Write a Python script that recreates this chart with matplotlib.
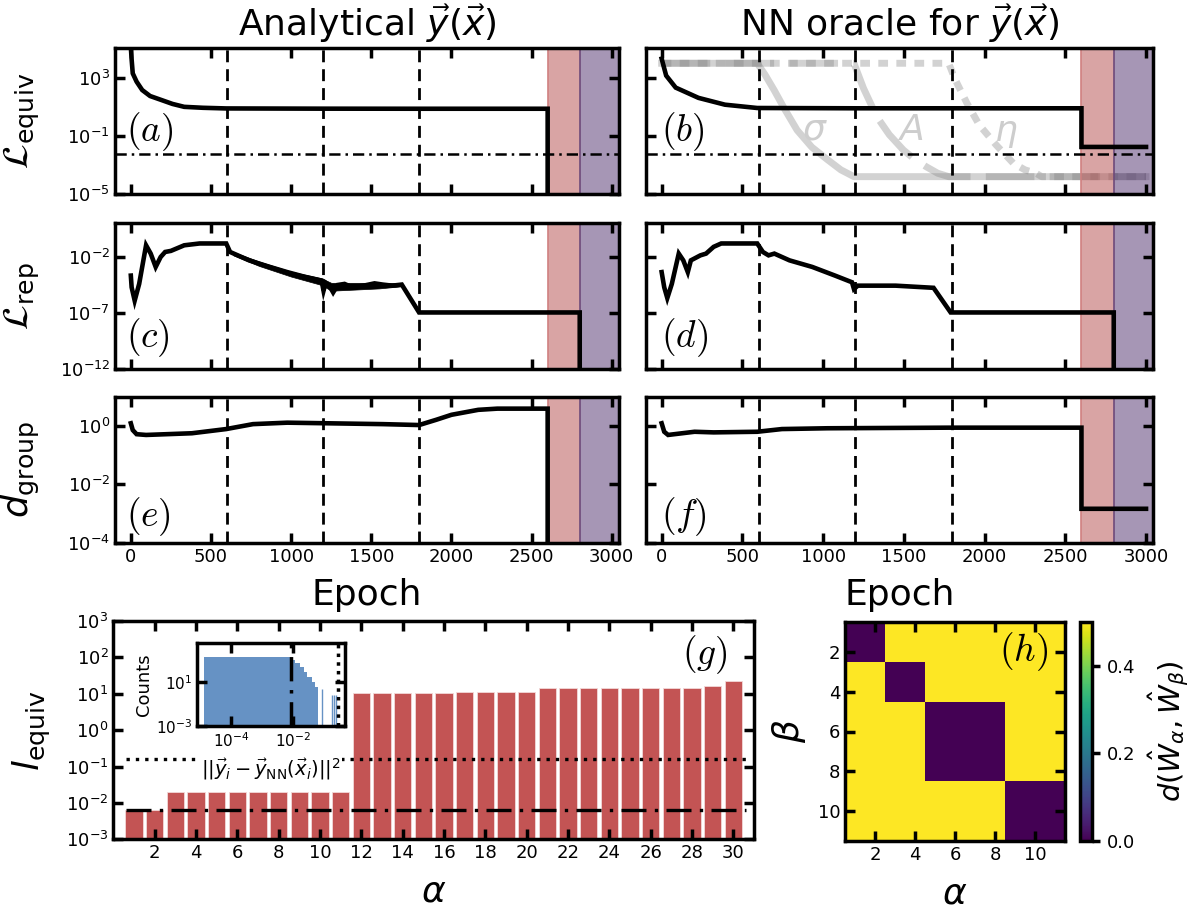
import matplotlib
matplotlib.use("Agg")
import numpy as np
import matplotlib.pyplot as plt
from matplotlib.ticker import NullLocator

plt.rcParams.update({
    "axes.linewidth": 2.5,
    "xtick.direction": "in",
    "ytick.direction": "in",
    "xtick.top": True,
    "ytick.right": True,
    "xtick.major.size": 7,
    "ytick.major.size": 7,
    "xtick.major.width": 2.5,
    "ytick.major.width": 2.5,
    "xtick.labelsize": 13,
    "ytick.labelsize": 13,
})

# training curves (epoch, value)
a_epoch = [0, 5, 12, 36, 71, 120, 190, 260, 333, 450, 595, 1200, 1800, 2600, 2600]
a_loss = [1.5e5, 2e4, 2200, 590, 155, 60, 32, 17, 10.7, 9.2, 8.3, 8.0, 7.9, 7.9, 1e-30]

b_epoch = [0, 28, 87, 228, 392, 592, 1200, 1800, 2600, 2600, 3000]
b_loss = [22900, 1550, 229, 44.7, 15.1, 8.9, 8.5, 8.5, 8.5, 0.018, 0.018]

c_epoch = [0, 5, 24, 52, 95, 124, 155, 186, 214, 250, 333, 429, 595, 619, 738, 860,
           976, 1080, 1190, 1202, 1215, 1238, 1262, 1290, 1333, 1380, 1452, 1520,
           1571, 1630, 1690, 1798, 2800, 2800]
c_rep = [2.2e-4, 2e-5, 1.3e-6, 4e-5, 0.11, 0.02, 1.3e-3, 0.01, 0.028, 0.035, 0.11,
         0.16, 0.16, 0.028, 5e-3, 1.4e-3, 4.5e-4, 1.8e-4, 8e-5, 1e-5, 5e-5, 2.8e-5,
         7e-6, 3.2e-5, 4e-5, 2e-5, 2.8e-5, 4.5e-5, 3.5e-5, 2.8e-5, 3.5e-5, 1.15e-7,
         1.15e-7, 1e-30]
# spread of the noisy stretch in (c)
c_band_epoch = [640, 800, 1000, 1190, 1250, 1400, 1550, 1690]
c_band_hi = [0.028, 4e-3, 5e-4, 1.26e-4, 5e-5, 5e-5, 5e-5, 4.5e-5]
c_band_lo = [0.014, 1.6e-3, 1.8e-4, 3.2e-5, 1e-5, 1.26e-5, 1.6e-5, 2.5e-5]

d_epoch = [0, 16, 35, 63, 106, 134, 162, 181, 240, 275, 322, 369, 592, 627, 662, 698,
           792, 933, 1074, 1179, 1191, 1215, 1449, 1684, 1790, 2800, 2800]
d_rep = [4.5e-4, 2e-5, 2.2e-6, 4e-5, 0.02, 5e-3, 4.5e-4, 5e-3, 0.014, 0.02, 0.08, 0.16,
         0.16, 0.028, 0.014, 0.02, 5e-3, 1.3e-3, 2.2e-4, 5.6e-5, 1.4e-5, 2.8e-5,
         2.8e-5, 1.8e-5, 1.15e-7, 1.15e-7, 1e-30]

e_epoch = [0, 12, 36, 95, 381, 595, 762, 976, 1571, 1798, 1905, 2000, 2167, 2286, 2600, 2600]
e_dist = [1.23, 0.72, 0.52, 0.49, 0.56, 0.78, 1.15, 1.29, 1.15, 1.07, 1.62, 2.4, 3.55,
          3.9, 3.9, 1e-30]

f_epoch = [0, 16, 40, 204, 322, 592, 745, 1027, 1778, 2600, 2600, 3000]
f_dist = [1.23, 0.63, 0.49, 0.63, 0.6, 0.63, 0.78, 0.83, 0.87, 0.87, 1.45e-3, 1.45e-3]

# annealing schedules drawn in grey in (b), normalised 0..1
sig_epoch = [0, 592, 640, 698, 760, 839, 930, 1027, 1110, 1191, 3000]
sig_val = [1, 1, 0.9, 0.76, 0.6, 0.41, 0.26, 0.15, 0.06, 0, 0]
amp_epoch = [0, 1191, 1250, 1332, 1410, 1497, 1570, 1638, 1710, 1778, 3000]
amp_val = [1, 1, 0.78, 0.53, 0.37, 0.235, 0.15, 0.088, 0.03, 0, 0]
eta_epoch = [0, 1778, 1814, 1890, 1967, 2072, 2178, 2250, 2319, 2354, 3000]
eta_val = [1, 1, 0.868, 0.65, 0.456, 0.279, 0.118, 0.06, 0.03, 0, 0]

phase_epochs = [600, 1200, 1800]
red_span = (2600, 2800)
purple_span = (2800, 3100)
equiv_thresh = 0.0063

# (g) per-generator equivariance loss
alpha = list(range(1, 31))
l_equiv = [0.0062, 0.0062] + [0.0205] * 9 + [10.3, 10.5, 10.6, 10.7, 10.8, 10.9, 10.9,
                                              11.3, 11.4] + [14.7] * 8 + [16.6, 22.8]
g_dotted = 0.163
g_dashdot = 0.0064

# inset histogram
hist_edges = [1.36e-5, 7.8e-3, 0.0112, 0.0162, 0.0219, 0.0282, 0.0389, 0.049, 0.063]
hist_counts = [1580, 910, 457, 224, 79, 28, 10, 3.5]
spike_x = [0.081, 0.17, 0.20, 0.234]
spike_h = [2, 0.6, 0.6, 0.6]
inset_dashdot = 0.0083
inset_dotted = 0.26

# (h) group membership of the 11 generators
groups = [1, 1, 2, 2, 3, 3, 3, 3, 4, 4, 4]
d_same, d_diff = 0.0, 0.5

W, H = 1195, 909


def box(l, r, t, b):
    return [l / W, 1 - b / H, (r - l) / W, (b - t) / H]


fig = plt.figure(figsize=(W / 100, H / 100), dpi=100)

cols = [(114.8, 619), (645.5, 1153.3)]
rows = [(48.3, 194), (223.3, 369.3), (396.7, 542.7)]

panels = [
    (a_epoch, a_loss, 0, 0, [1e-5, 1e-1, 1e3], (1e-5, 1.2e5), "a", 0.425),
    (b_epoch, b_loss, 0, 1, [1e-5, 1e-1, 1e3], (1e-5, 1.2e5), "b", 0.425),
    (c_epoch, c_rep, 1, 0, [1e-12, 1e-7, 1e-2], (1e-12, 1e1), "c", 0.215),
    (d_epoch, d_rep, 1, 1, [1e-12, 1e-7, 1e-2], (1e-12, 1e1), "d", 0.215),
    (e_epoch, e_dist, 2, 0, [1e-4, 1e-2, 1e0], (1e-4, 1e1), "e", 0.18),
    (f_epoch, f_dist, 2, 1, [1e-4, 1e-2, 1e0], (1e-4, 1e1), "f", 0.18),
]
ylabels = [r"$\mathcal{L}_{\rm equiv}$", r"$\mathcal{L}_{\rm rep}$", r"$d_{\rm group}$"]

axes = {}
for ep, val, r, c, yt, yl, tag, ty in panels:
    ax = fig.add_axes(box(cols[c][0], cols[c][1], rows[r][0], rows[r][1]))
    axes[tag] = ax
    ax.axvspan(*red_span, facecolor="#B54B4B", alpha=0.5, lw=0, zorder=0)
    ax.axvspan(*purple_span, facecolor="#4F2F6D", alpha=0.5, lw=0, zorder=0)
    ax.axvline(red_span[0], color="#D08080", lw=1.2, zorder=0.5)
    ax.axvline(purple_span[0], color="#6E4A7A", lw=1.2, zorder=0.5)
    for pe in phase_epochs:
        ax.axvline(pe, color="k", lw=2, dashes=(4.3, 2.5), zorder=1)
    ax.plot(ep, val, color="k", lw=3.3, solid_joinstyle="miter", zorder=3)
    if tag == "c":
        ax.fill_between(c_band_epoch, c_band_lo, c_band_hi, color="k", lw=0.5, zorder=3)
    ax.set_yscale("log")
    ax.set_ylim(yl)
    ax.set_xlim(-100, 3045)
    ax.set_yticks(yt)
    ax.yaxis.set_minor_locator(NullLocator())
    ax.set_xticks(range(0, 3001, 500))
    ax.tick_params(which="major", top=True, right=True)
    if r < 2:
        ax.tick_params(labelbottom=False)
    else:
        ax.set_xlabel("Epoch", fontsize=26)
        ax.xaxis.set_label_coords(0.5, -0.245)
    if c == 1:
        ax.tick_params(labelleft=False)
    else:
        ax.set_ylabel(ylabels[r], fontsize=26)
        ax.yaxis.set_label_coords(-0.145, 0.5)
    if r == 0:
        ax.axhline(equiv_thresh, color="k", lw=1.8, dashes=(4.5, 2, 1, 2), zorder=2)
    ax.text(0.022 if c == 0 else 0.03, ty, "$(%s)$" % tag, transform=ax.transAxes,
            fontsize=27, math_fontfamily="cm", va="center", ha="left", zorder=5)

axes["a"].set_title(r"Analytical $\vec{y}(\vec{x})$", fontsize=26, pad=9)
axes["b"].set_title(r"NN oracle for $\vec{y}(\vec{x})$", fontsize=26, pad=9)

# schedule overlay in (b)
axb = axes["b"]
tw = axb.twinx()
tw.set_zorder(axb.get_zorder() - 1)
axb.patch.set_visible(False)
grey = dict(color="0.5", alpha=0.35, lw=5)
tw.plot(sig_epoch, sig_val, **grey)
tw.plot(amp_epoch, amp_val, dashes=(7, 2.2), **grey)
tw.plot(eta_epoch, eta_val, dashes=(1.4, 1.2), **grey)
tw.set_ylim(-0.153, 1.132)
tw.set_xlim(-100, 3045)
tw.axis("off")
for s, x, y in [(r"$\sigma$", 0.333, 0.44), (r"$A$", 0.523, 0.44), (r"$\eta$", 0.71, 0.42)]:
    axb.text(x, y, s, transform=axb.transAxes, fontsize=26, color="#CDCDCD",
             ha="center", va="center", zorder=4)

# (g)
axg = fig.add_axes(box(113.3, 754, 621, 839.3))
axg.bar(alpha, l_equiv, width=0.85, color="#C35454", edgecolor="#F2D8D8", lw=0.6, zorder=1)
axg.hlines(g_dotted, 0.6, 30.6, color="k", lw=2.4, linestyles=(0, (1, 1.8)), zorder=3)
axg.hlines(g_dashdot, 0.6, 30.6, color="k", lw=2.4, linestyles=(0, (7.5, 2.5, 1, 2.5)), zorder=3)
axg.set_yscale("log")
axg.set_ylim(1e-3, 1e3)
axg.set_xlim(0, 31)
axg.set_yticks([1e-3, 1e-2, 1e-1, 1e0, 1e1, 1e2, 1e3])
axg.yaxis.set_minor_locator(NullLocator())
axg.set_xticks(range(2, 31, 2))
axg.set_xlabel(r"$\alpha$", fontsize=26)
axg.xaxis.set_label_coords(0.5, -0.16)
axg.set_ylabel(r"$l_{\rm equiv}$", fontsize=26)
axg.yaxis.set_label_coords(-0.094, 0.5)
axg.text(0.958, 0.844, "$(g)$", transform=axg.transAxes, fontsize=27,
         math_fontfamily="cm", ha="right", va="center")

# inset histogram
axi = fig.add_axes(box(197.3, 345, 642.7, 726))
axi.set_facecolor("white")
axi.stairs(hist_counts, hist_edges, fill=True, color="#6692C4", baseline=1e-3)
axi.vlines(spike_x, 1e-3, spike_h, color="#6692C4", lw=1)
axi.axvline(inset_dashdot, color="k", lw=2.5, dashes=(7, 2.5, 1, 2.5))
axi.axvline(inset_dotted, color="k", lw=2.5, dashes=(1, 1.5))
axi.set_xscale("log")
axi.set_yscale("log")
axi.set_xlim(8.3e-6, 0.45)
axi.set_ylim(1e-3, 3.3e4)
axi.set_xticks([1e-4, 1e-2])
axi.set_yticks([1e-3, 1e1])
axi.xaxis.set_minor_locator(NullLocator())
axi.yaxis.set_minor_locator(NullLocator())
axi.tick_params(labelsize=11, length=7, width=2.5)
axi.set_ylabel("Counts", fontsize=13, labelpad=2)
axi.set_xlabel(r"$||\vec{y}_i - \vec{y}_{\rm NN}(\vec{x}_i)||^2$", fontsize=14, labelpad=5,
               bbox=dict(facecolor="white", edgecolor="none", pad=1))

# (h)
grp = np.array(groups)
dmat = np.where(grp[:, None] == grp[None, :], d_same, d_diff)
axh = fig.add_axes(box(845, 1065, 622, 841))
im = axh.imshow(dmat, cmap="viridis", vmin=0, vmax=0.5, extent=(0.5, 11.5, 11.5, 0.5),
                aspect="auto", interpolation="nearest")
axh.set_xticks(range(2, 11, 2))
axh.set_yticks(range(2, 11, 2))
axh.set_xlabel(r"$\alpha$", fontsize=26)
axh.xaxis.set_label_coords(0.5, -0.16)
axh.set_ylabel(r"$\beta$", fontsize=26)
axh.yaxis.set_label_coords(-0.17, 0.5)
axh.text(0.924, 0.863, "$(h)$", transform=axh.transAxes, fontsize=27,
         math_fontfamily="cm", ha="right", va="center")

cax = fig.add_axes(box(1080, 1092, 622, 841))
cb = fig.colorbar(im, cax=cax)
cb.set_ticks([0.0, 0.2, 0.4])
cb.ax.tick_params(direction="out", length=6, width=2.5, labelsize=13, right=True, pad=5)
cb.outline.set_linewidth(2.5)
cb.set_label(r"$d(\hat{W}_\alpha, \hat{W}_\beta)$", fontsize=21)
cax.yaxis.set_label_coords(5.5, 0.5)

fig.savefig("out.png", dpi=100)
